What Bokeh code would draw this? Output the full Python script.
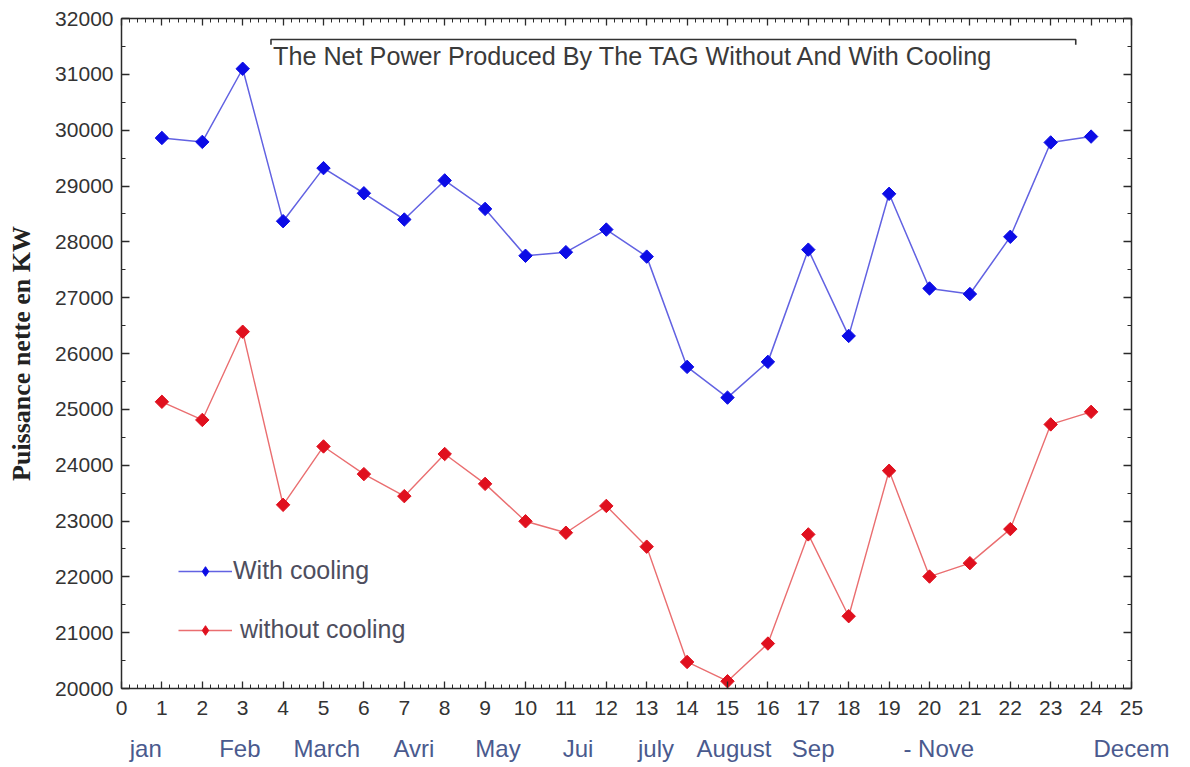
import math
from bokeh.plotting import figure
from bokeh.models import (Range1d, LinearAxis, SingleIntervalTicker, FixedTicker, CustomJSTickFormatter,
                          Label, PolyAnnotation, Legend, LegendItem, ColumnDataSource)
from bokeh.embed import file_html
from bokeh.resources import INLINE

# ---------------- data ----------------
month_idx = list(range(1, 25))
with_cooling = [29860, 29790, 31100, 28370, 29320, 28870, 28400, 29100, 28590, 27750, 27815, 28220,
                27735, 25760, 25210, 25850, 27860, 26315, 28860, 27165, 27065, 28090, 29780, 29885]
without_cooling = [25135, 24810, 26390, 23290, 24335, 23840, 23445, 24200, 23665, 22995, 22790, 23270,
                   22540, 20475, 20130, 20805, 22760, 21295, 23900, 22005, 22245, 22855, 24730, 24955]
month_names = ["jan", "Feb", "March", "Avri", "May", "Jui", "july", "August", "Sep", "- Nove", "Decem"]
month_pos = [0.6, 2.93, 5.08, 7.24, 9.32, 11.3, 13.23, 15.16, 17.12, 20.23, 25.0]
title_text = "The Net Power Produced By The TAG Without And With Cooling"
y_title = "Puissance nette en KW"

FONT = "Liberation Sans"
AX = "#2a2a2a"

p = figure(width=1188, height=765, output_backend="svg", toolbar_location=None,
           x_range=Range1d(0, 25), y_range=Range1d(20000, 32000),
           min_border_left=121, min_border_right=57, min_border_top=18, min_border_bottom=77,
           x_axis_type=None, y_axis_type=None)
p.xgrid.visible = False
p.ygrid.visible = False
p.outline_line_color = None
p.background_fill_color = "white"
p.border_fill_color = "white"

blank = CustomJSTickFormatter(code="return ''")

def style(ax):
    ax.axis_line_color = AX
    ax.axis_line_width = 1.5
    ax.major_tick_line_color = AX
    ax.minor_tick_line_color = AX
    ax.major_tick_line_width = 1.3
    ax.minor_tick_line_width = 1.0
    ax.major_tick_in = 8
    ax.major_tick_out = 0
    ax.minor_tick_in = 4
    ax.minor_tick_out = 0
    ax.major_label_text_font = FONT
    ax.major_label_text_color = "#333333"

# left axis
yl = LinearAxis(ticker=SingleIntervalTicker(interval=1000, num_minor_ticks=2))
style(yl)
yl.major_label_text_font_size = "21px"
yl.major_label_standoff = 8
yl.axis_label = y_title
yl.axis_label_text_font = "Liberation Serif"
yl.axis_label_text_font_style = "bold"
yl.axis_label_text_font_size = "26px"
yl.axis_label_text_color = "#222222"
yl.axis_label_standoff = 16
p.add_layout(yl, "left")

# right axis (ticks only)
yr = LinearAxis(ticker=SingleIntervalTicker(interval=1000, num_minor_ticks=2), formatter=blank)
style(yr)
yr.major_label_standoff = 0
p.add_layout(yr, "right")

# bottom axis
xb = LinearAxis(ticker=SingleIntervalTicker(interval=1, num_minor_ticks=5))
style(xb)
xb.major_tick_in = 7
xb.minor_tick_in = 4
xb.major_label_text_font_size = "21px"
xb.major_label_standoff = 12
p.add_layout(xb, "below")

# month labels axis
mx = LinearAxis(ticker=FixedTicker(ticks=month_pos, minor_ticks=[]),
                formatter=CustomJSTickFormatter(args=dict(pos=month_pos, names=month_names), code="""
                    let best = 0, d = 1e9;
                    for (let i = 0; i < pos.length; i++) { const e = Math.abs(pos[i] - tick); if (e < d) { d = e; best = i; } }
                    return names[best];
                """))
mx.axis_line_color = None
mx.major_tick_line_color = None
mx.minor_tick_line_color = None
mx.major_label_text_font = FONT
mx.major_label_text_font_size = "24px"
mx.major_label_text_color = "#4a5a8e"
mx.major_label_standoff = 11
p.add_layout(mx, "below")

# top axis (ticks only)
xt = LinearAxis(ticker=SingleIntervalTicker(interval=1, num_minor_ticks=5), formatter=blank)
style(xt)
xt.major_tick_in = 7
xt.major_label_standoff = 0
p.add_layout(xt, "above")

# data
bl = p.line(month_idx, with_cooling, line_color="#6262e2", line_width=1.5)
bs = p.scatter(month_idx, with_cooling, marker="square", size=9.5, angle=math.pi / 4,
               fill_color="#0c0ce6", line_color="#0c0ce6")
rl = p.line(month_idx, without_cooling, line_color="#ea6e70", line_width=1.4)
rs = p.scatter(month_idx, without_cooling, marker="square", size=9.5, angle=math.pi / 4,
               fill_color="#e0101e", line_color="#e0101e")

# legend swatches (diamonds; NaN placeholder so nothing is drawn in the plot area)
nan_src = ColumnDataSource(data=dict(x=[float("nan")], y=[float("nan")]))
bdl = p.scatter("x", "y", source=nan_src, marker="diamond", size=13, fill_color="#0c0ce6", line_color="#0c0ce6")
rdl = p.scatter("x", "y", source=nan_src, marker="diamond", size=13, fill_color="#e0101e", line_color="#e0101e")

legend = Legend(items=[LegendItem(label="With cooling", renderers=[bl, bdl]),
                       LegendItem(label=" without cooling", renderers=[rl, rdl])],
                location=(57, 44), glyph_width=54, glyph_height=24, label_height=24,
                label_standoff=1, spacing=30, padding=0, margin=0,
                background_fill_alpha=0, border_line_alpha=0,
                label_text_font=FONT, label_text_font_size="25px", label_text_color="#4e4e5e")
p.add_layout(legend, "center")

# title with bracket
p.add_layout(PolyAnnotation(xs=[3.7, 3.7, 23.62, 23.62, 23.62, 3.7],
                            ys=[31530, 31625, 31625, 31530, 31625, 31625],
                            fill_alpha=0, line_alpha=1.0, line_color="#333333", line_width=1.6))
p.add_layout(Label(x=3.75, y=31320, text=title_text, text_align="left", text_baseline="middle",
                   text_font=FONT, text_font_size="25.2px", text_color="#3a3a3a"))

open("out.html", "w").write(file_html(p, INLINE))
